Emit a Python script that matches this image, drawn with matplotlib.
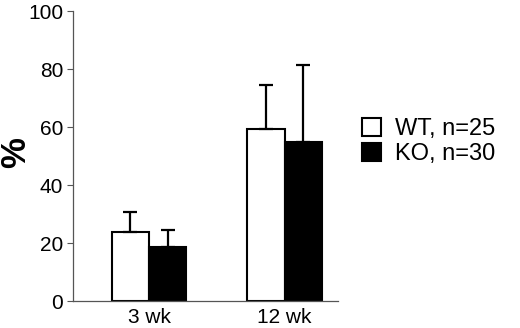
import numpy as np
from matplotlib import pyplot as plt
from matplotlib.patches import Patch

plt.rcParams['font.family'] = ['Liberation Sans', 'DejaVu Sans']

groups = ['3 wk', '12 wk']
wt_mean = [23.7, 59.5]
wt_err = [6.9, 15.0]
ko_mean = [18.5, 54.9]
ko_err = [6.0, 26.7]
series_labels = ['WT, n=25', 'KO, n=30']

fig = plt.figure(figsize=(5.2, 3.28), dpi=100)
ax = fig.add_axes([0.14, 0.082, 0.51, 0.884])

x = np.arange(len(groups))
w = 0.275

ax.bar(x - w/2, wt_mean, w, color='white', edgecolor='black', linewidth=1.5,
       yerr=[np.zeros(len(x)), wt_err], error_kw=dict(ecolor='black', elinewidth=1.6, capsize=5, capthick=1.6))
ax.bar(x + w/2, ko_mean, w, color='black', edgecolor='black', linewidth=1.5,
       yerr=[np.zeros(len(x)), ko_err], error_kw=dict(ecolor='black', elinewidth=1.6, capsize=5, capthick=1.6))

ax.set_xlim(-0.563, 1.393)
ax.set_ylim(0, 100)
ax.set_yticks(range(0, 101, 20))
ax.set_xticks(x)
ax.set_xticklabels(groups, fontsize=15)
ax.tick_params(axis='x', length=0, pad=5)
ax.tick_params(axis='y', labelsize=15, length=4, width=0.8, color='#555555', pad=3)
ax.set_ylabel('%', fontsize=25, fontweight='bold')
ax.yaxis.set_label_coords(-0.152, 0.512)

for s in ['top', 'right']:
    ax.spines[s].set_visible(False)
for s in ['left', 'bottom']:
    ax.spines[s].set_linewidth(0.9)
    ax.spines[s].set_color('#555555')

handles = [Patch(facecolor='white', edgecolor='black', linewidth=1.5),
           Patch(facecolor='black', edgecolor='black', linewidth=1.5)]
fig.legend(handles, series_labels, loc='center left', bbox_to_anchor=(0.697, 0.569),
           frameon=False, fontsize=17, handlelength=0.8, handleheight=0.8,
           handletextpad=0.6, labelspacing=0.1, borderpad=0, borderaxespad=0)

fig.savefig('out.png', dpi=100)
